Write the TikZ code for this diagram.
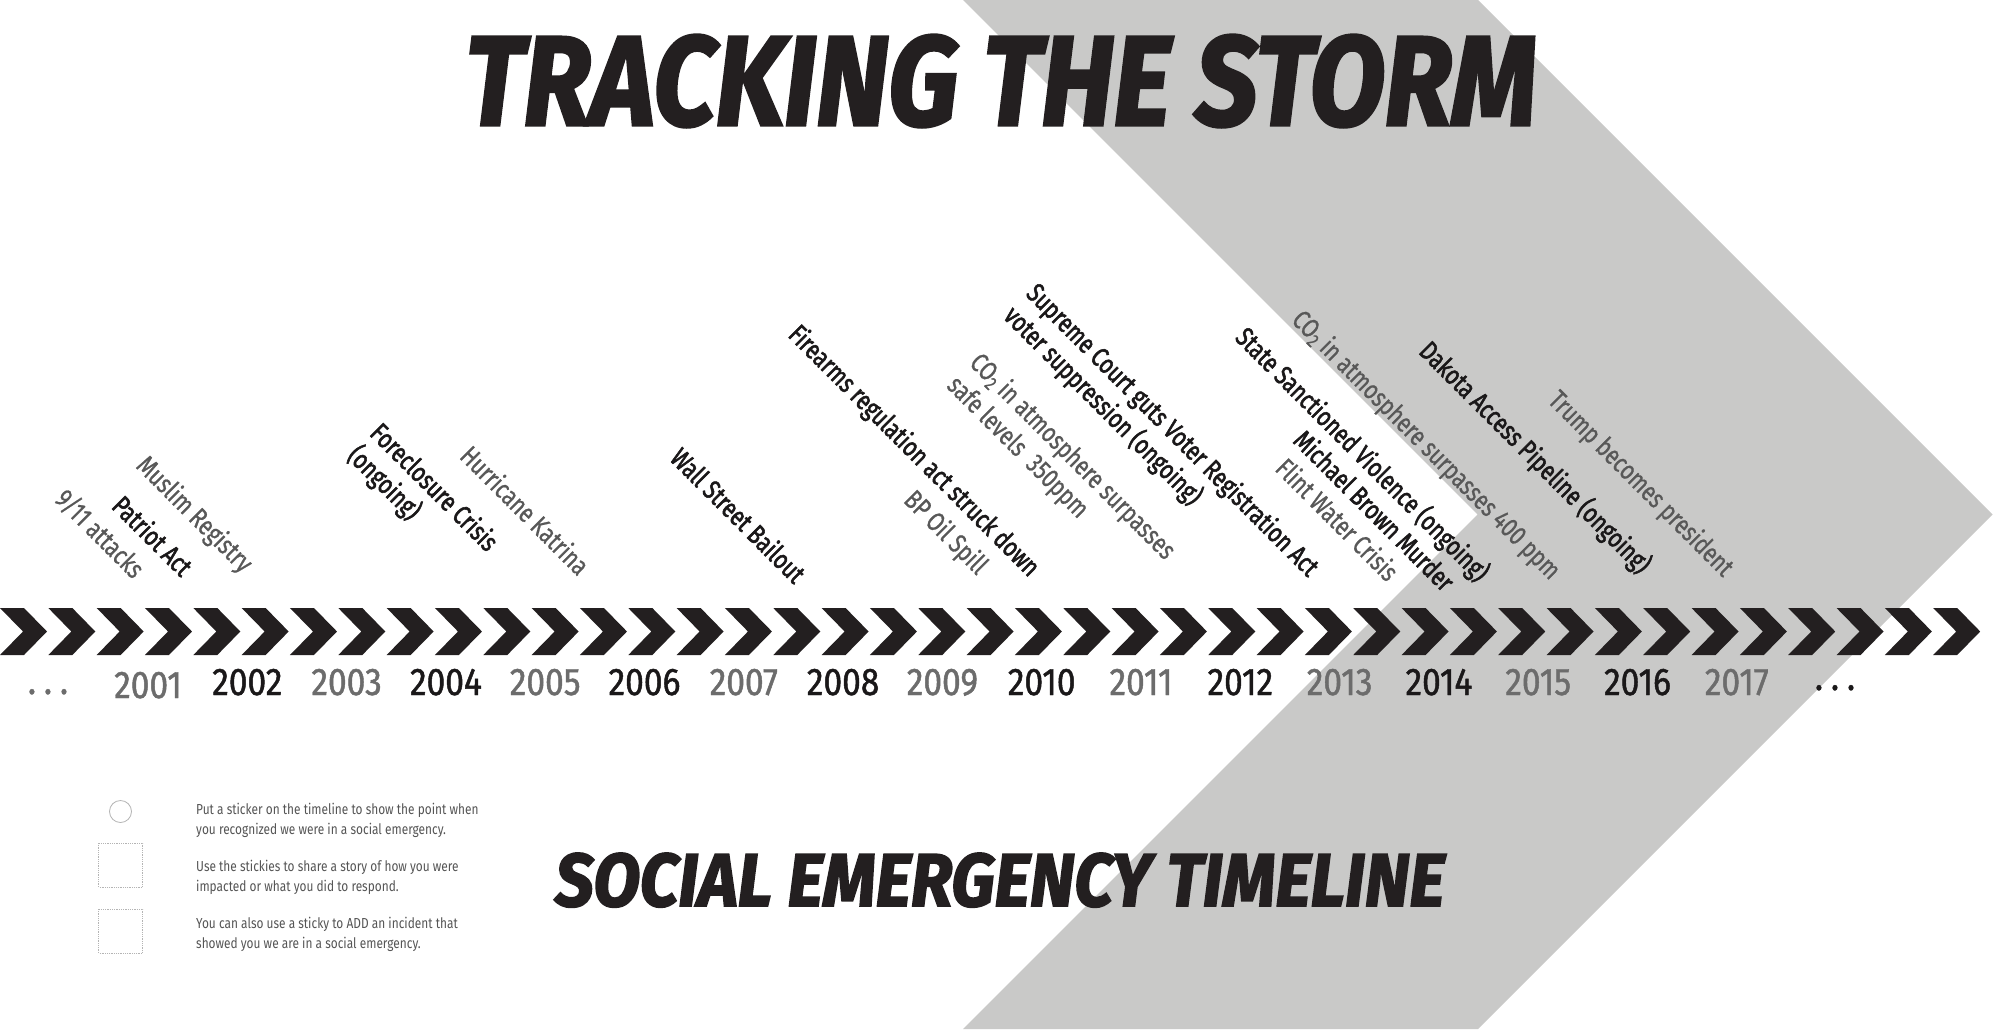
\documentclass[tikz,border=0pt]{standalone}
\usepackage{graphicx}
\usepackage{fontspec}
\usetikzlibrary{calc}
\setmainfont{Fira Sans}
\newfontfamily\evfont[FakeStretch=0.78,FakeBold=0.8]{Fira Sans}
\newfontfamily\evbfont[FakeStretch=0.78,FakeBold=2]{Fira Sans}
\newfontfamily\yrfont[FakeStretch=0.87,FakeBold=1.2]{Fira Sans}
\newfontfamily\ttlfont[FakeBold=2.5]{Fira Sans}
\newfontfamily\lgfont[FakeStretch=0.82]{Fira Sans}
\definecolor{bggray}{RGB}{201,201,200}
\definecolor{chev}{RGB}{35,31,32}
\definecolor{ink}{RGB}{26,24,25}
\definecolor{evgray}{RGB}{88,88,88}
\definecolor{yrgray}{RGB}{108,108,108}
\definecolor{lggray}{RGB}{85,85,85}
\definecolor{lgline}{RGB}{180,180,180}
\tikzset{
  evb/.style={rotate=-45, anchor=base east, inner sep=0, text=ink, font=\evbfont\fontsize{27}{32}\selectfont},
  evg/.style={rotate=-45, anchor=base east, inner sep=0, text=evgray, font=\evfont\fontsize{27}{32}\selectfont},
  yrlab/.style={anchor=base, inner sep=0, font=\yrfont\fontsize{38.5}{44}\selectfont},
  lgtext/.style={anchor=north west, align=left, inner sep=0, text=lggray, font=\lgfont\fontsize{14.5}{20}\selectfont},
  lgbox/.style={draw=lgline, densely dotted, line width=0.8pt},
}
\begin{document}
\begin{tikzpicture}[x=1pt,y=-1pt]
\useasboundingbox (0,0) rectangle (2000,1029);
\fill[white] (0,0) rectangle (2000,1029);
% big gray chevron
\fill[bggray] (963,0) -- (1478,0) -- (1992.5,514.5) -- (1478,1029) -- (963,1029) -- (1477.5,514.5) -- cycle;
% timeline chevrons
\foreach \i in {0,...,40}{
  \fill[chev] ({\i*48.33},608) -- ++(24,0) -- ++(23,23.5) -- ++(-23,23.5) -- ++(-24,0) -- ++(23,-23.5) -- cycle;
}
% titles
\node (title) [anchor=base west, inner sep=0, text=chev] at (465,125)
  {\resizebox{1071pt}{90pt}{\ttlfont\bfseries\itshape TRACKING THE STORM}};
\node (subtitle) [anchor=base west, inner sep=0, text=chev] at (555,906)
  {\resizebox{889pt}{53pt}{\ttlfont\bfseries\itshape SOCIAL EMERGENCY TIMELINE}};
% years
\foreach \yr [count=\k from 0] in {2001,...,2017}{
  \pgfmathsetmacro\xx{148+99.3*\k}
  \pgfmathsetmacro\yy{\k==0 ? 698 : 695}
  \ifodd\yr\def\yc{yrgray}\else\def\yc{ink}\fi
  \node (y\yr) [yrlab, text=\yc] at (\xx,\yy) {\yr};
}
\node (dotsL) [yrlab, text=yrgray] at (48,694) {.\kern8pt.\kern8pt.};
\node (dotsR) [yrlab, text=ink] at (1835,690) {.\kern8pt.\kern8pt.};
% events
\node (e911) [evg] at (133,580) {9/11 attacks};
\node (epat) [evb] at (181,578) {Patriot Act};
\node (emus) [evg] at (242,574) {Muslim Registry};
\node (efor) [evb] at (487,553) {Foreclosure Crisis};
\node (efor2) [evb, anchor=base west] at ($(efor.base west)+(-22.6,22.6)$) {(ongoing)};
\node (ehur) [evg] at (578,577) {Hurricane Katrina};
\node (ewall) [evb] at (794,585) {Wall Street Bailout};
\node (efire) [evb] at (1029,578) {Firearms regulation act struck down};
\node (ebp) [evg] at (977,576) {BP Oil Spill};
\node (eco1) [evg] at (1165,561) {CO\textsubscript{2} in atmosphere surpasses};
\node (eco1b) [evg, anchor=base west] at ($(eco1.base west)+(-22.6,22.6)$) {safe levels\ \ 350ppm};
\node (esup) [evb] at (1308,578) {Supreme Court guts Voter Registration Act};
\node (esup2) [evb, anchor=base west] at ($(esup.base west)+(-22.6,22.6)$) {voter suppression (ongoing)};
\node (estate) [evb] at (1478,583) {State Sanctioned Violence (ongoing)};
\node (emb) [evb] at (1443,593) {Michael Brown Murder};
\node (eflint) [evg] at (1387,583) {Flint Water Crisis};
\node (eco2) [evg] at (1550,581) {CO\textsubscript{2} in atmosphere surpasses 400 ppm};
\node (edak) [evb] at (1640,575) {Dakota Access Pipeline (ongoing)};
\node (etrump) [evg] at (1723,578) {Trump becomes president};
% legend
\draw[draw=lgline, line width=0.8pt] (120.5,811.5) circle[radius=11pt];
\draw[lgbox] (98.7,843) rectangle (142.7,887);
\draw[lgbox] (98.7,909) rectangle (142.7,953);
\node (lg1) [lgtext] at (196,803) {Put a sticker on the timeline to show the point when\\you recognized we were in a social emergency.};
\node (lg2) [lgtext] at (196,860) {Use the stickies to share a story of how you were\\impacted or what you did to respond.};
\node (lg3) [lgtext] at (196,917) {You can also use a sticky to ADD an incident that\\showed you we are in a social emergency.};
\end{tikzpicture}
\end{document}
